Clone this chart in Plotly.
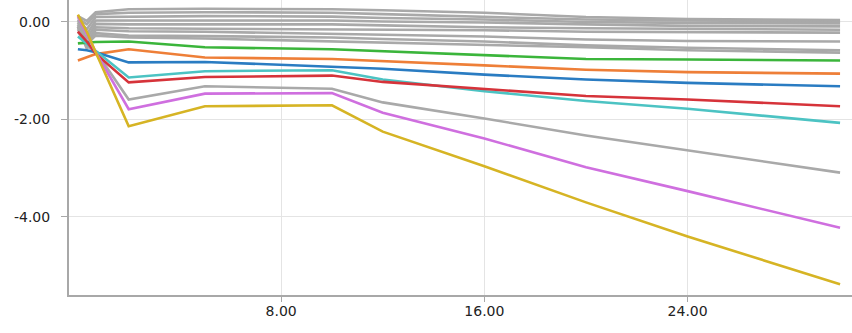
import plotly.graph_objects as go

x_vals = [0, 0.35, 0.7, 2, 5, 10, 12, 16, 20, 24, 30]

gray_series = [
    [0.12, 0.02, 0.20, 0.26, 0.27, 0.26, 0.24, 0.19, 0.10, 0.06, 0.04],
    [0.08, -0.05, 0.16, 0.19, 0.20, 0.19, 0.16, 0.11, 0.05, 0.03, 0.01],
    [0.05, -0.15, 0.10, 0.11, 0.12, 0.11, 0.08, 0.05, 0.00, -0.02, -0.03],
    [0.02, -0.25, 0.03, 0.03, 0.04, 0.03, 0.01, -0.01, -0.05, -0.08, -0.09],
    [-0.02, -0.35, -0.04, -0.05, -0.05, -0.05, -0.07, -0.11, -0.13, -0.14, -0.16],
    [-0.06, -0.45, -0.11, -0.13, -0.14, -0.15, -0.16, -0.17, -0.20, -0.21, -0.22],
    [-0.10, -0.55, -0.16, -0.19, -0.20, -0.24, -0.27, -0.30, -0.36, -0.39, -0.40],
    [-0.15, -0.50, -0.23, -0.28, -0.29, -0.32, -0.35, -0.40, -0.48, -0.53, -0.58],
    [-0.20, -0.45, -0.28, -0.32, -0.34, -0.40, -0.42, -0.46, -0.52, -0.58, -0.63],
]

gray_low = [-0.10, -0.50, -0.60, -1.59, -1.32, -1.37, -1.65, -1.98, -2.33, -2.63, -3.09]
green = [-0.44, -0.43, -0.41, -0.40, -0.52, -0.56, -0.60, -0.69, -0.76, -0.77, -0.79]
orange = [-0.79, -0.72, -0.66, -0.56, -0.73, -0.76, -0.80, -0.89, -0.98, -1.03, -1.06]
blue = [-0.56, -0.58, -0.62, -0.83, -0.82, -0.92, -0.96, -1.08, -1.18, -1.25, -1.32]
cyan = [-0.30, -0.45, -0.60, -1.14, -1.01, -0.99, -1.18, -1.42, -1.62, -1.78, -2.07]
red = [-0.20, -0.40, -0.65, -1.24, -1.13, -1.10, -1.23, -1.37, -1.52, -1.59, -1.73]
magenta = [0.12, -0.25, -0.62, -1.79, -1.47, -1.46, -1.86, -2.39, -2.98, -3.47, -4.22]
yellow = [0.15, -0.20, -0.62, -2.14, -1.73, -1.71, -2.25, -2.96, -3.70, -4.40, -5.38]

x_tickvals = [8, 16, 24]
x_ticktext = ["8.00", "16.00", "24.00"]
y_tickvals = [0, -2, -4]
y_ticktext = ["0.00", "-2.00", "-4.00"]

GRAY = "#a9a9a9"
colored = [
    (gray_low, GRAY),
    (green, "#3bb53b"),
    (orange, "#ee7f38"),
    (blue, "#2a7cc2"),
    (cyan, "#4cc3c3"),
    (red, "#d6333a"),
    (magenta, "#cf6fdf"),
    (yellow, "#d6b424"),
]

fig = go.Figure()
for s in gray_series:
    fig.add_trace(go.Scatter(x=x_vals, y=s, mode="lines",
                             line=dict(color=GRAY, width=2.6), hoverinfo="skip"))
for s, c in colored:
    fig.add_trace(go.Scatter(x=x_vals, y=s, mode="lines",
                             line=dict(color=c, width=2.6), hoverinfo="skip"))

axis_font = dict(family="DejaVu Sans", size=14, color="#222222")
fig.update_layout(
    width=852, height=333,
    margin=dict(l=69, r=0, t=0, b=38, autoexpand=False),
    paper_bgcolor="white", plot_bgcolor="white",
    showlegend=False,
    xaxis=dict(range=[-0.35, 30.47], tickvals=x_tickvals, ticktext=x_ticktext,
               showgrid=True, gridcolor="#e4e4e4", gridwidth=1,
               showline=True, linecolor="#a8a8a8", linewidth=2,
               ticks="outside", ticklen=5, tickcolor="#a8a8a8",
               zeroline=False, tickfont=axis_font, ticklabelstandoff=-3,
               automargin=False),
    yaxis=dict(range=[-5.6, 0.45], tickvals=y_tickvals, ticktext=y_ticktext,
               showgrid=True, gridcolor="#e4e4e4", gridwidth=1,
               showline=True, linecolor="#a8a8a8", linewidth=2,
               ticks="outside", ticklen=6, tickcolor="#a8a8a8",
               zeroline=False, tickfont=axis_font, ticklabelstandoff=8,
               automargin=False),
)

fig.write_html("out.html", config={"displayModeBar": False},
               post_script="document.body.style.margin='0';")
